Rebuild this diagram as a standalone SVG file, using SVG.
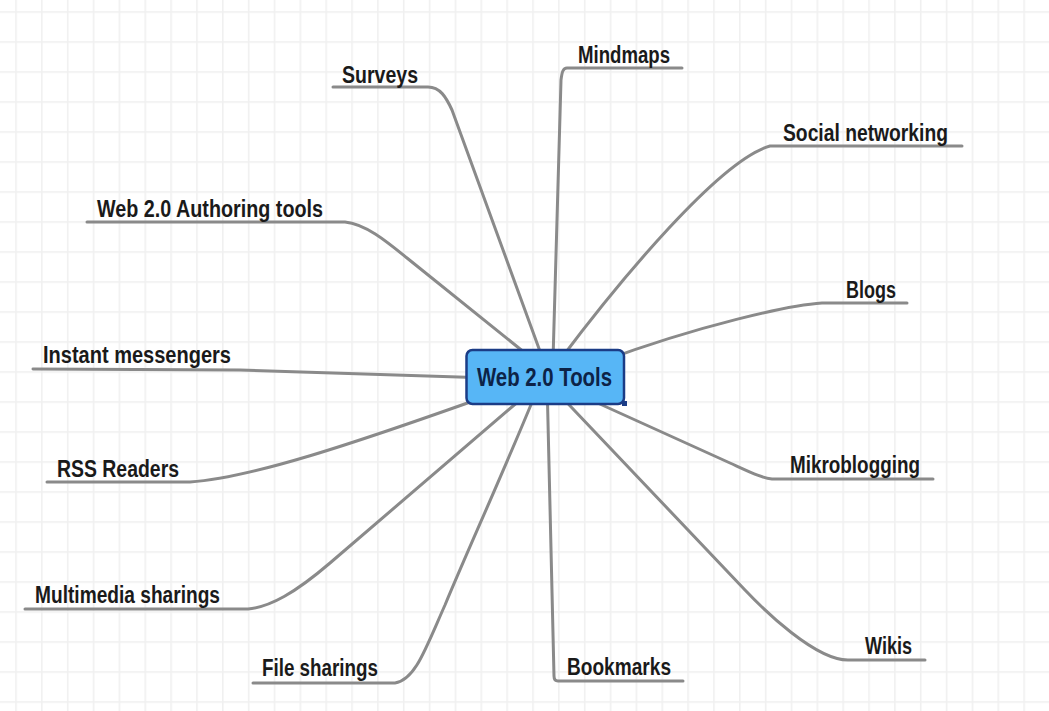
<svg xmlns="http://www.w3.org/2000/svg" width="1049" height="711" viewBox="0 0 1049 711">
<style>
.conn{fill:none;stroke:#8a8a8a;stroke-width:3;stroke-linecap:round;stroke-linejoin:round}
.lbl{font-family:"Liberation Sans",Arial,sans-serif;font-weight:bold;font-size:23px;fill:#1a1a1a}
.ctr{font-family:"Liberation Sans",Arial,sans-serif;font-weight:bold;font-size:25px;fill:#0d2347}
.gl{fill:#f0f0f0}
</style>
<defs>
<pattern id="grid" patternUnits="userSpaceOnUse" x="15.2" y="11.2" width="25.85" height="30">
<rect class="gl" x="0" y="0" width="1.6" height="30"/>
<rect class="gl" x="0" y="0" width="25.85" height="1.6"/>
</pattern>
</defs>
<rect width="1049" height="711" fill="#ffffff"/>
<rect width="1049" height="711" fill="url(#grid)"/>
<g id="connectors">
<path class="conn" d="M333,87 H428 C440,87 446,97 452,110 L545,365"/>
<path class="conn" d="M682,68 H567 C563,68 562,72 561,80 L553,360"/>
<path class="conn" d="M962,146 H770 C720,160 620,280 560,360"/>
<path class="conn" d="M907,303 H822 C790,305 700,325 600,362"/>
<path class="conn" d="M933,479 H772 C762,478 752,473 730,463 L580,395"/>
<path class="conn" d="M925,660 H848 C815,660 764,610 745,590 L555,390"/>
<path class="conn" d="M683,681 H558 Q554,681 554,676 L547,380"/>
<path class="conn" d="M253,683 H395 C415,680 425,650 445,605 C470,545 500,480 535,395"/>
<path class="conn" d="M25,609 H248 C270,607 295,593 330,563 L520,400"/>
<path class="conn" d="M47,482 H190 C250,478 350,445 490,395"/>
<path class="conn" d="M33,369 L240,370 L490,378"/>
<path class="conn" d="M87,222 H345 C365,224 385,240 407,258 L530,357"/>
</g>
<g id="center">
<rect x="466.5" y="350" width="157.5" height="54" rx="6" fill="#57b6f6" stroke="#1b3c86" stroke-width="2.5"/>
<rect x="622" y="401" width="5" height="5" fill="#1b3c86"/>
<text class="ctr" x="477" y="386" textLength="135" lengthAdjust="spacingAndGlyphs">Web 2.0 Tools</text>
</g>
<g id="surveys"><text class="lbl" x="342" y="83" textLength="76" lengthAdjust="spacingAndGlyphs">Surveys</text></g>
<g id="mindmaps"><text class="lbl" x="578" y="63" textLength="92" lengthAdjust="spacingAndGlyphs">Mindmaps</text></g>
<g id="social"><text class="lbl" x="783" y="141" textLength="165" lengthAdjust="spacingAndGlyphs">Social networking</text></g>
<g id="blogs"><text class="lbl" x="846" y="298" textLength="50" lengthAdjust="spacingAndGlyphs">Blogs</text></g>
<g id="mikro"><text class="lbl" x="790" y="473" textLength="130" lengthAdjust="spacingAndGlyphs">Mikroblogging</text></g>
<g id="wikis"><text class="lbl" x="865" y="654" textLength="47" lengthAdjust="spacingAndGlyphs">Wikis</text></g>
<g id="bookmarks"><text class="lbl" x="567" y="675" textLength="104" lengthAdjust="spacingAndGlyphs">Bookmarks</text></g>
<g id="files"><text class="lbl" x="262" y="676" textLength="116" lengthAdjust="spacingAndGlyphs">File sharings</text></g>
<g id="multimedia"><text class="lbl" x="35" y="603" textLength="185" lengthAdjust="spacingAndGlyphs">Multimedia sharings</text></g>
<g id="rss"><text class="lbl" x="57" y="477" textLength="122" lengthAdjust="spacingAndGlyphs">RSS Readers</text></g>
<g id="im"><text class="lbl" x="43" y="363" textLength="188" lengthAdjust="spacingAndGlyphs">Instant messengers</text></g>
<g id="authoring"><text class="lbl" x="97" y="217" textLength="226" lengthAdjust="spacingAndGlyphs">Web 2.0 Authoring tools</text></g>
</svg>
